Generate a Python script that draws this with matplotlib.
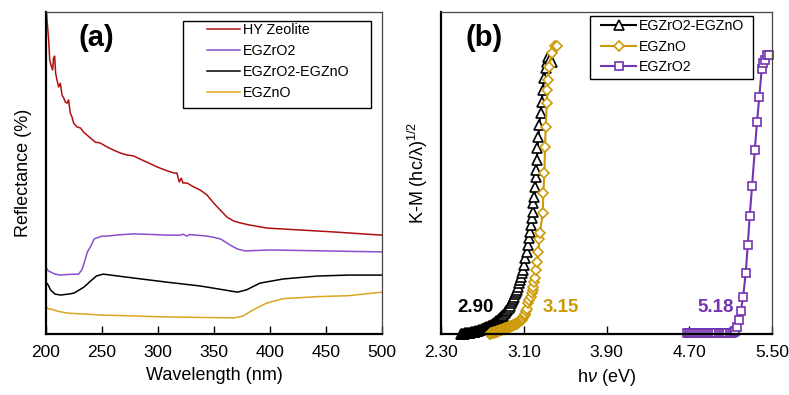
import numpy as np
import matplotlib
matplotlib.use('Agg')
import matplotlib.pyplot as plt
from matplotlib.patches import Rectangle

plt.rcParams['font.family'] = ['Liberation Sans', 'DejaVu Sans']
plt.rcParams['mathtext.fontset'] = 'custom'
plt.rcParams['mathtext.rm'] = 'Liberation Sans'
plt.rcParams['mathtext.it'] = 'Liberation Sans:italic'

# ---- (a) reflectance spectra (arbitrary units) ----
wl_hy = [200, 200.8, 202.4, 203.3, 204.5, 205.9, 206.8, 207.7, 208.6, 209.8, 211.3, 212.8,
         214.3, 215.8, 217.3, 218.8, 220.2, 221.7, 223.2, 224.7, 227.7, 230.7, 233.6, 236.6,
         239.6, 244, 248.5, 254.5, 260.4, 266.4, 272.3, 278.3, 284.2, 291.7, 299.1, 306.5,
         314, 316.9, 319, 320.8, 322.3, 325.9, 331.8, 337.8, 343.7, 349.7, 355.6, 361.6,
         367.6, 373.5, 381, 397.3, 427.1, 456.8, 500]
r_hy = [105, 98, 91.3, 85.1, 83.5, 82, 85.7, 86.3, 81, 78.9, 76.7, 77.9,
        74.2, 73.3, 72, 71.7, 72.7, 68.6, 67.4, 65.5, 64.3, 64, 62.7, 61.8,
        60.9, 59.6, 59.3, 58.1, 57.1, 56.2, 55.6, 55.3, 54.3, 53.1, 51.9, 50.9,
        50, 50, 47.2, 48.4, 46.9, 46.9, 45.7, 44.7, 43.2, 40.7, 38.5, 36.3,
        35.1, 34.5, 33.9, 32.9, 32.3, 31.7, 30.7]

wl_zr = [200, 202, 204, 208, 213, 220, 229, 232, 234, 237, 240, 243, 245, 250, 254, 265,
         278, 295, 308, 320, 322, 326, 328, 344, 350, 356, 365, 371, 378, 400, 450, 500]
r_zr = [20.8, 19.6, 19.3, 18.6, 18.3, 18.5, 18.6, 19.9, 22.0, 25.5, 27.3, 29.5, 29.8, 30.4,
        30.4, 30.8, 31.1, 30.9, 30.7, 30.7, 31.0, 30.4, 30.9, 30.4, 30.0, 29.5, 27.5, 26.4,
        25.8, 26.1, 25.8, 25.5]

wl_mix = [200, 202, 204, 208, 213, 220, 225, 234, 240, 245, 251, 278, 308, 338, 359, 371,
          379, 391, 412, 442, 470, 500]
r_mix = [16.1, 15.2, 13.7, 12.4, 12.1, 12.4, 12.7, 14.6, 16.5, 18.0, 18.6, 17.4, 16.1, 14.9,
         13.7, 13.0, 13.7, 15.8, 17.1, 18.0, 18.3, 18.3]

wl_zn = [200, 202, 204, 210, 219, 249, 308, 368, 376, 385, 397, 412, 442, 470, 500]
r_zn = [8.7, 7.8, 7.8, 7.1, 6.5, 5.9, 5.3, 5.0, 5.6, 7.5, 9.6, 11.0, 11.6, 11.9, 13.0]

# ---- (b) Kubelka-Munk plots ----
hv_mix = [2.490, 2.498, 2.505, 2.513, 2.520, 2.528, 2.535, 2.543, 2.550, 2.558,
          2.565, 2.573, 2.580, 2.588, 2.595, 2.603, 2.610, 2.618, 2.625, 2.633,
          2.640, 2.648, 2.655, 2.663, 2.670, 2.678, 2.685, 2.693, 2.700, 2.708,
          2.715, 2.723, 2.730, 2.738, 2.745, 2.753, 2.760, 2.768, 2.775, 2.783,
          2.790, 2.798, 2.805, 2.813, 2.820, 2.828, 2.835, 2.843, 2.850, 2.858,
          2.865, 2.873, 2.880, 2.888, 2.895, 2.902,
          2.915, 2.928, 2.941, 2.953, 2.965, 2.977, 2.987, 2.997,
          3.006, 3.015, 3.024, 3.032, 3.042, 3.051, 3.061, 3.071, 3.081, 3.090, 3.102, 3.115,
          3.129, 3.141, 3.151, 3.160, 3.167, 3.177, 3.186, 3.192, 3.202, 3.212, 3.218, 3.222,
          3.226, 3.232, 3.241, 3.250, 3.262, 3.273, 3.283, 3.296, 3.310, 3.322, 3.337, 3.350,
          3.370]
km_mix = [0.00, 0.00, 0.01, 0.01, 0.01, 0.02, 0.02, 0.02, 0.03, 0.03,
          0.03, 0.04, 0.04, 0.05, 0.05, 0.06, 0.06, 0.07, 0.07, 0.08,
          0.09, 0.09, 0.10, 0.11, 0.12, 0.13, 0.14, 0.15, 0.16, 0.17,
          0.18, 0.19, 0.20, 0.21, 0.22, 0.23, 0.24, 0.25, 0.26, 0.27,
          0.28, 0.30, 0.31, 0.33, 0.35, 0.37, 0.39, 0.41, 0.43, 0.45,
          0.48, 0.50, 0.53, 0.55, 0.57, 0.59,
          0.64, 0.70, 0.75, 0.82, 0.88, 0.95, 1.02, 1.09,
          1.16, 1.23, 1.30, 1.37, 1.47, 1.57, 1.68, 1.78, 1.89, 1.99, 2.14, 2.35,
          2.56, 2.77, 2.98, 3.18, 3.39, 3.60, 3.80, 4.06, 4.27, 4.58, 4.89, 5.10,
          5.40, 5.77, 6.13, 6.49, 6.85, 7.21, 7.58, 7.94, 8.25, 8.46, 8.61, 8.55,
          8.45]

hv_zn = [2.770, 2.778, 2.785, 2.793, 2.800, 2.808, 2.815, 2.823, 2.830, 2.838,
         2.845, 2.853, 2.860, 2.868, 2.875, 2.883, 2.890, 2.898, 2.905, 2.913,
         2.920, 2.928, 2.935, 2.943, 2.950, 2.958, 2.965, 2.973, 2.980, 2.988,
         2.995, 3.003, 3.010, 3.018, 3.025, 3.033, 3.040, 3.048, 3.055, 3.063,
         3.070, 3.078, 3.085, 3.093, 3.100, 3.108, 3.115, 3.123, 3.130,
         3.144, 3.154, 3.166, 3.177, 3.185, 3.192, 3.200,
         3.209, 3.218, 3.231, 3.241, 3.250, 3.255, 3.283, 3.289, 3.299, 3.305, 3.312, 3.322,
         3.328, 3.337, 3.344, 3.370, 3.402, 3.424]
km_zn = [0.00, 0.01, 0.02, 0.02, 0.03, 0.04, 0.05, 0.05, 0.06, 0.07,
         0.08, 0.09, 0.10, 0.11, 0.12, 0.13, 0.14, 0.15, 0.16, 0.17,
         0.18, 0.19, 0.20, 0.20, 0.21, 0.22, 0.23, 0.24, 0.25, 0.26,
         0.27, 0.28, 0.29, 0.30, 0.31, 0.32, 0.34, 0.36, 0.38, 0.40,
         0.43, 0.45, 0.48, 0.51, 0.55, 0.59, 0.63, 0.70, 0.78,
         0.95, 1.06, 1.16, 1.26, 1.37, 1.47, 1.60,
         1.73, 1.99, 2.25, 2.56, 2.95, 3.13, 3.75, 4.37, 4.99, 5.81, 6.44, 7.16,
         7.58, 7.89, 8.30, 8.72, 8.93, 8.95]

hv_zr = [4.675, 4.693, 4.711, 4.729, 4.747, 4.766, 4.784, 4.803, 4.823, 4.842, 4.862, 4.882,
         4.901, 4.921, 4.942, 4.962, 4.983, 5.004, 5.025, 5.046, 5.067, 5.089, 5.110, 5.130,
         5.142, 5.164, 5.183, 5.197, 5.220, 5.246, 5.265, 5.284, 5.307, 5.333, 5.355, 5.377,
         5.400, 5.410, 5.432, 5.452, 5.474]
km_zr = [0.02, 0.02, 0.02, 0.02, 0.02, 0.02, 0.02, 0.02, 0.02, 0.03, 0.03, 0.03,
         0.03, 0.03, 0.03, 0.03, 0.03, 0.04, 0.04, 0.04, 0.04, 0.04, 0.04, 0.07,
         0.10, 0.23, 0.43, 0.70, 1.15, 1.90, 2.75, 3.66, 4.60, 5.70, 6.59, 7.37,
         8.22, 8.43, 8.51, 8.66, 8.66]

c_red = '#B01010'
c_pur_a = '#8A4FCC'
c_gold_a = '#DAA520'
c_pur = '#7434B0'
c_gold = '#CC9A06'

fig = plt.figure(figsize=(7.89, 3.95), dpi=100)
ax1 = fig.add_axes([0.0583, 0.1544, 0.4258, 0.8152])
ax2 = fig.add_axes([0.559, 0.1544, 0.4195, 0.8152])

for ax in (ax1, ax2):
    ax.spines['left'].set_linewidth(1.6)
    ax.spines['bottom'].set_linewidth(1.6)
    for s in ('top', 'right'):
        ax.spines[s].set_linewidth(0.9)
        ax.spines[s].set_color('#444444')
    ax.tick_params(axis='x', direction='in', length=6, width=1, labelsize=12.5, pad=8)
    ax.tick_params(axis='y', left=False, labelleft=False)

# panel (a)
h1, = ax1.plot(wl_hy, r_hy, color=c_red, lw=1.1, label='HY Zeolite')
h2, = ax1.plot(wl_zr, r_zr, color=c_pur_a, lw=1.1, label='EGZrO2')
h3, = ax1.plot(wl_mix, r_mix, color='black', lw=1.1, label='EGZrO2-EGZnO')
h4, = ax1.plot(wl_zn, r_zn, color=c_gold_a, lw=1.1, label='EGZnO')
ax1.set_xlim(200, 500)
ax1.set_ylim(0, 100)
ax1.set_xticks([200, 250, 300, 350, 400, 450, 500])
ax1.set_xlabel('Wavelength (nm)', fontsize=13, labelpad=5)
ax1.set_ylabel('Reflectance (%)', fontsize=13, labelpad=10)
ax1.text(0.15, 0.92, '(a)', transform=ax1.transAxes, fontsize=21, fontweight='bold',
         ha='center', va='center')
ax1.add_patch(Rectangle((0.407, 0.702), 0.560, 0.271, transform=ax1.transAxes,
                        facecolor='white', edgecolor='black', lw=1, zorder=5))
leg1 = ax1.legend(handles=[h1, h2, h3, h4], loc='upper left', bbox_to_anchor=(0.479, 0.966),
                  frameon=False, fontsize=10.3, handlelength=2.3, handletextpad=0.2,
                  labelspacing=0.5, borderpad=0, borderaxespad=0)
leg1.set_zorder(6)

# panel (b)
k1, = ax2.plot(hv_mix, km_mix, color='black', lw=1.5, marker='^', ms=7, mfc='white',
               mec='black', mew=1.2, label='EGZrO2-EGZnO', clip_on=False)
k2, = ax2.plot(hv_zn, km_zn, color=c_gold, lw=1.5, marker='D', ms=5.5, mfc='white',
               mec=c_gold, mew=1.2, label='EGZnO', clip_on=False)
k3, = ax2.plot(hv_zr, km_zr, color=c_pur, lw=1.5, marker='s', ms=5.5, mfc='white',
               mec=c_pur, mew=1.2, label='EGZrO2', clip_on=False)
ax2.set_xlim(2.30, 5.50)
ax2.set_ylim(0, 10)
ax2.set_xticks([2.30, 3.10, 3.90, 4.70, 5.50])
ax2.set_xticklabels(['2.30', '3.10', '3.90', '4.70', '5.50'])
ax2.set_xlabel('h$\\nu$ (eV)', fontsize=13, labelpad=5)
ax2.set_ylabel('K-M (hc/\u03bb)$^{1/2}$', fontsize=13, labelpad=8)
ax2.text(0.13, 0.92, '(b)', transform=ax2.transAxes, fontsize=21, fontweight='bold',
         ha='center', va='center')
ax2.text(2.63, 0.81, '2.90', fontsize=13.5, fontweight='bold', color='black', ha='center', va='center')
ax2.text(3.46, 0.81, '3.15', fontsize=13.5, fontweight='bold', color=c_gold, ha='center', va='center')
ax2.text(4.96, 0.81, '5.18', fontsize=13.5, fontweight='bold', color=c_pur, ha='center', va='center')
ax2.add_patch(Rectangle((0.450, 0.792), 0.493, 0.196, transform=ax2.transAxes,
                        facecolor='white', edgecolor='black', lw=1, zorder=5))
leg2 = ax2.legend(handles=[k1, k2, k3], loc='upper left', bbox_to_anchor=(0.483, 0.977),
                  frameon=False, fontsize=10.2, handlelength=2.5, handletextpad=0.2,
                  labelspacing=0.45, borderpad=0, borderaxespad=0)
leg2.set_zorder(6)

fig.savefig('out.png', dpi=100)
